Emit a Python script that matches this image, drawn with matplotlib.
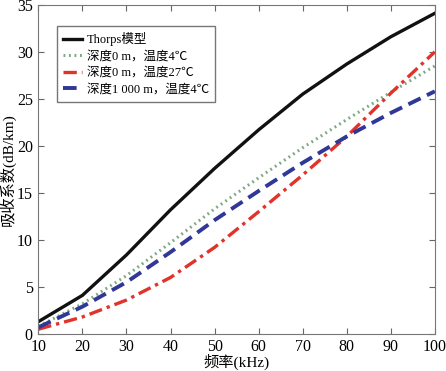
import matplotlib
matplotlib.use("Agg")
import matplotlib.pyplot as plt

# Absorption coefficient vs frequency
freq_khz = [10, 20, 30, 40, 50, 60, 70, 80, 90, 100]
thorp = [1.3, 4.1, 8.4, 13.2, 17.6, 21.7, 25.5, 28.7, 31.6, 34.1]
d0_t4 = [0.8, 3.2, 6.2, 9.7, 13.3, 16.6, 19.8, 22.8, 25.7, 28.5]
d0_t27 = [0.5, 1.8, 3.6, 6.0, 9.2, 13.0, 16.9, 21.0, 25.6, 30.0]
d1000_t4 = [0.7, 2.9, 5.5, 8.7, 12.1, 15.2, 18.2, 21.0, 23.5, 25.8]

labels = ["Thorps模型", "深度0 m，温度4℃", "深度0 m，温度27℃", "深度1 000 m，温度4℃"]
xticks = list(range(10, 101, 10))
yticks = list(range(0, 36, 5))

fam = ["Liberation Serif", "Noto Sans CJK SC", "DejaVu Sans"]
plt.rcParams["font.family"] = fam

fig = plt.figure(figsize=(4.46, 3.71), dpi=100)
ax = fig.add_axes([0.086, 0.1, 0.889, 0.887])

ax.plot(freq_khz, thorp, color="#111111", lw=2.4, label=labels[0])
ax.plot(freq_khz, d0_t4, color="#7fa882", lw=2.2, ls=(0, (0.6, 1.2)), label=labels[1])
ax.plot(freq_khz, d0_t27, color="#e2332b", lw=2.4, ls=(0, (4, 1.5, 1, 1.5)), label=labels[2])
ax.plot(freq_khz, d1000_t4, color="#2f3897", lw=2.8, ls=(0, (3.5, 1.8)), label=labels[3])

ax.set_xlim(10, 100)
ax.set_ylim(0, 35)
ax.set_xticks(xticks)
ax.set_yticks(yticks)
ax.tick_params(direction="in", top=True, right=True, labelsize=11.5, length=4,
               color="#666666")
ax.tick_params(axis="x", pad=4)
ax.tick_params(axis="y", pad=4)
for s in ax.spines.values():
    s.set_color("#777777")

ax.set_xlabel("频率(kHz)", fontsize=11, labelpad=-1)
ax.set_ylabel("吸收系数(dB/km)", fontsize=11, labelpad=1)

leg = ax.legend(loc="upper left", bbox_to_anchor=(0.03, 0.955), fontsize=9,
                handlelength=1.5, handletextpad=0.4, borderpad=0.5,
                labelspacing=0.35, fancybox=False, framealpha=1)
leg.get_frame().set_edgecolor("#777777")

fig.savefig("out.png", dpi=100)
